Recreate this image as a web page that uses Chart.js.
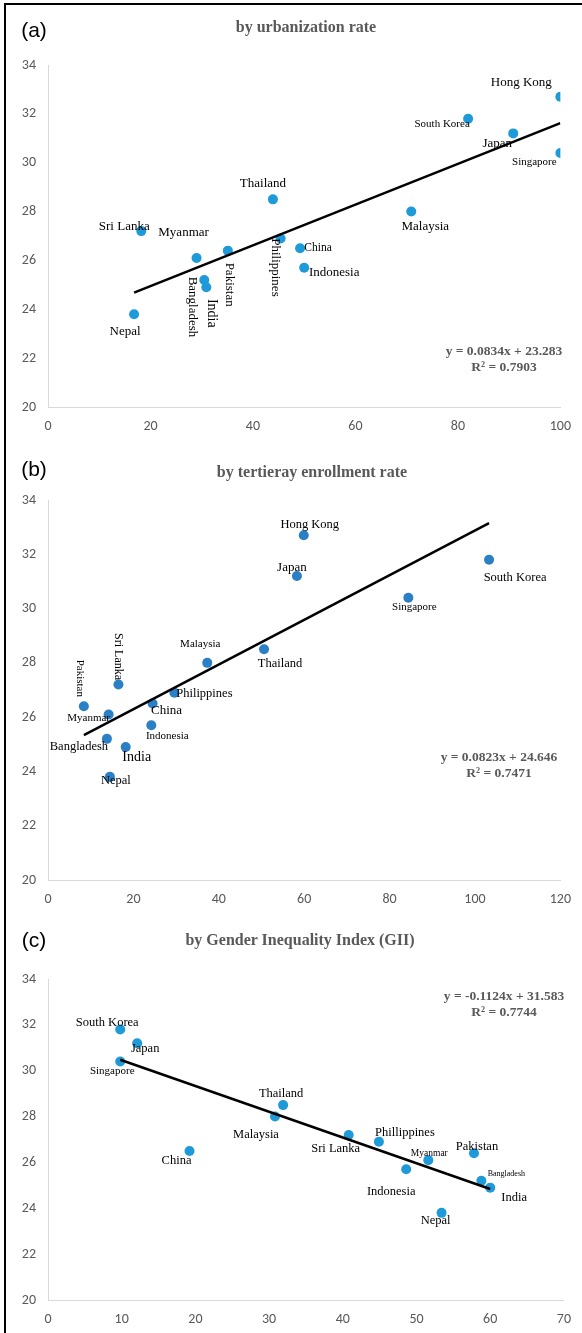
<!DOCTYPE html>
<html>
<head>
<meta charset="utf-8">
<script src="https://cdn.jsdelivr.net/npm/chart.js@4.4.0/dist/chart.umd.min.js"></script>
<style>
  html, body { margin: 0; padding: 0; background: #fff; }
  #page { position: relative; width: 582px; height: 1333px; overflow: hidden; }
  #frame { position: absolute; left: 4px; top: 3px; width: 700px; height: 1400px; border-left: 2px solid #000; border-top: 2px solid #000; }
  canvas { position: absolute; left: 0; }
  .txt { position: absolute; transform: translate(-50%, -50%); white-space: nowrap; }
  .tag { font-family: "Liberation Sans", Arial, sans-serif; font-size: 21px; color: #000; }
  .ttl { font-family: "Liberation Serif", "Times New Roman", serif; font-weight: bold; font-size: 16px; color: #595959; }
  .eq { font-family: "Liberation Serif", "Times New Roman", serif; font-weight: bold; font-size: 13.5px; color: #595959; }
</style>
</head>
<body>
<div id="page">
  <div id="frame"></div>

  <canvas id="chartA" width="582" height="433" style="top:0px"></canvas>
  <canvas id="chartB" width="582" height="473" style="top:433px"></canvas>
  <canvas id="chartC" width="582" height="427" style="top:906px"></canvas>

  <div class="txt tag" style="left:34px; top:30px">(a)</div>
  <div class="txt ttl" style="left:306px; top:27px">by urbanization rate</div>
  <div class="txt eq" style="left:504px; top:351px">y = 0.0834x + 23.283</div>
  <div class="txt eq" style="left:504px; top:367px">R² = 0.7903</div>

  <div class="txt tag" style="left:34px; top:469px">(b)</div>
  <div class="txt ttl" style="left:312px; top:472px">by tertieray enrollment rate</div>
  <div class="txt eq" style="left:499px; top:757px">y = 0.0823x + 24.646</div>
  <div class="txt eq" style="left:499px; top:773px">R² = 0.7471</div>

  <div class="txt tag" style="left:34px; top:940px">(c)</div>
  <div class="txt ttl" style="left:300px; top:940px">by Gender Inequality Index (GII)</div>
  <div class="txt eq" style="left:504px; top:996px">y = -0.1124x + 31.583</div>
  <div class="txt eq" style="left:504px; top:1012px">R² = 0.7744</div>
</div>

<script>
// countries and the value on the y axis (same for all three panels)
const countries = ['Hong Kong', 'South Korea', 'Japan', 'Singapore', 'Thailand', 'Malaysia', 'Sri Lanka',
  'Philippines', 'China', 'Pakistan', 'Myanmar', 'Indonesia', 'Bangladesh', 'India', 'Nepal'];
const outcome = [32.7, 31.8, 31.2, 30.4, 28.5, 28.0, 27.2, 26.9, 26.5, 26.4, 26.1, 25.7, 25.2, 24.9, 23.8];

// x values per panel (Hong Kong has no GII value)
const urbanRate = [100, 82.0, 90.8, 100, 43.9, 70.9, 18.2, 45.4, 49.2, 35.1, 29.0, 50.0, 30.5, 30.9, 16.8];
const tertiaryRate = [59.9, 103.3, 58.3, 84.4, 50.6, 37.3, 16.5, 29.6, 24.5, 8.4, 14.2, 24.2, 13.8, 18.2, 14.5];
const giiValue = [null, 9.8, 12.1, 9.8, 31.9, 30.8, 40.8, 44.9, 19.2, 57.8, 51.6, 48.6, 58.8, 60.0, 53.4];

// trend line end points
const trendA = [{x: 16.8, y: 24.68}, {x: 100, y: 31.62}];
const trendB = [{x: 8.4, y: 25.34}, {x: 103.3, y: 33.15}];
const trendC = [{x: 9.8, y: 30.48}, {x: 60.0, y: 24.84}];

// axis ticks
const yRange = [20, 34, 2];
const xRangeA = [0, 100, 20];
const xRangeB = [0, 120, 20];
const xRangeC = [0, 70, 10];

// label placement: [dx, dy, font size, rotation]
const placeA = {
  'Hong Kong': [-39, -14, 13], 'South Korea': [-26, 5, 11], 'Japan': [-16, 10, 13], 'Singapore': [-26, 9, 11],
  'Thailand': [-10, -16, 13], 'Malaysia': [14, 15, 13], 'Sri Lanka': [-17, -5, 13], 'Myanmar': [-13, -25, 13],
  'Pakistan': [2, 34, 13, 90], 'Bangladesh': [-12, 27, 13, 90], 'India': [5, 26, 14, 90],
  'Philippines': [-5, 29, 13, 90], 'China': [18, 0, 11.5], 'Indonesia': [30, 5, 13], 'Nepal': [-9, 17, 13]
};
const placeB = {
  'Hong Kong': [6, -11, 12.5], 'Japan': [-5, -8, 13], 'South Korea': [26, 18, 12.5], 'Singapore': [6, 9, 11],
  'Malaysia': [-7, -19, 11], 'Thailand': [16, 14, 12.5], 'Sri Lanka': [0, -28, 12, 90], 'Pakistan': [-4, -28, 11, 90],
  'Myanmar': [-20, 4, 11], 'Philippines': [30, 1, 12.5], 'China': [14, 7, 13], 'Indonesia': [16, 11, 11],
  'Bangladesh': [-28, 8, 12.5], 'India': [11, 10, 14], 'Nepal': [6, 4, 12.5]
};
const placeC = {
  'South Korea': [-13, -7, 12.5], 'Japan': [8, 6, 12.5], 'Singapore': [-8, 10, 11], 'Thailand': [-2, -11, 12.5],
  'Malaysia': [-19, 18, 12.5], 'China': [-13, 10, 12.5], 'Sri Lanka': [-13, 14, 12.5], 'Philippines': [26, -9, 12.5],
  'Myanmar': [1, -7, 9.5], 'Indonesia': [-15, 22, 12.5], 'Pakistan': [3, -7, 12.5], 'Bangladesh': [25, -7, 8],
  'India': [24, 10, 12.5], 'Nepal': [-6, 8, 12.5]
};
const renameC = { 'Philippines': 'Phillippines' };

const tickFont = { family: 'Carlito, "Open Sans", sans-serif', size: 14 };

const pointLabels = {
  id: 'pointLabels',
  afterDatasetsDraw(chart, args, opts) {
    const ctx = chart.ctx;
    const meta = chart.getDatasetMeta(1);
    const pts = chart.data.datasets[1].data;
    meta.data.forEach((el, i) => {
      const name = pts[i].name;
      const p = opts.place[name];
      if (!p) return;
      ctx.save();
      ctx.translate(el.x + p[0], el.y + p[1]);
      if (p[3]) ctx.rotate(p[3] * Math.PI / 180);
      ctx.font = p[2] + 'px "Liberation Serif", "Times New Roman", serif';
      ctx.fillStyle = '#000';
      ctx.textAlign = 'center';
      ctx.textBaseline = 'middle';
      ctx.fillText((opts.rename && opts.rename[name]) || name, 0, 0);
      ctx.restore();
    });
  }
};

function makeChart(id, xs, xRange, trend, color, place, rename, padTop, padBottom) {
  const pts = [];
  countries.forEach((c, i) => {
    if (xs[i] !== null) pts.push({ x: xs[i], y: outcome[i], name: c });
  });
  return new Chart(document.getElementById(id), {
    type: 'scatter',
    data: {
      datasets: [
        { data: trend, showLine: true, borderColor: '#000', borderWidth: 2.5, pointRadius: 0, order: 0 },
        { data: pts, backgroundColor: color, borderColor: color, pointRadius: 5, borderWidth: 0, order: 1 }
      ]
    },
    options: {
      responsive: false,
      animation: false,
      layout: { padding: { top: padTop, right: 17, left: 0, bottom: padBottom } },
      plugins: {
        legend: { display: false },
        tooltip: { enabled: false },
        pointLabels: { place: place, rename: rename }
      },
      scales: {
        x: {
          type: 'linear', min: xRange[0], max: xRange[1],
          ticks: { stepSize: xRange[2], padding: 11, color: '#595959', font: tickFont, maxRotation: 0 },
          grid: { display: false, drawTicks: false },
          border: { display: true, color: '#d9d9d9', width: 1 },
          afterFit(s) { s.height = 26; }
        },
        y: {
          min: yRange[0], max: yRange[1],
          ticks: { stepSize: yRange[2], padding: 12, color: '#595959', font: tickFont },
          grid: { display: false, drawTicks: false },
          border: { display: true, color: '#d9d9d9', width: 1 },
          afterFit(s) { s.width = 48; }
        }
      }
    },
    plugins: [pointLabels]
  });
}

makeChart('chartA', urbanRate, xRangeA, trendA, '#1f9ad8', placeA, null, 65, 0);
makeChart('chartB', tertiaryRate, xRangeB, trendB, '#2a7fc5', placeB, null, 67, 0);
makeChart('chartC', giiValue, xRangeC, trendC, '#1f9ad8', placeC, renameC, 73, 7);
</script>
</body>
</html>
